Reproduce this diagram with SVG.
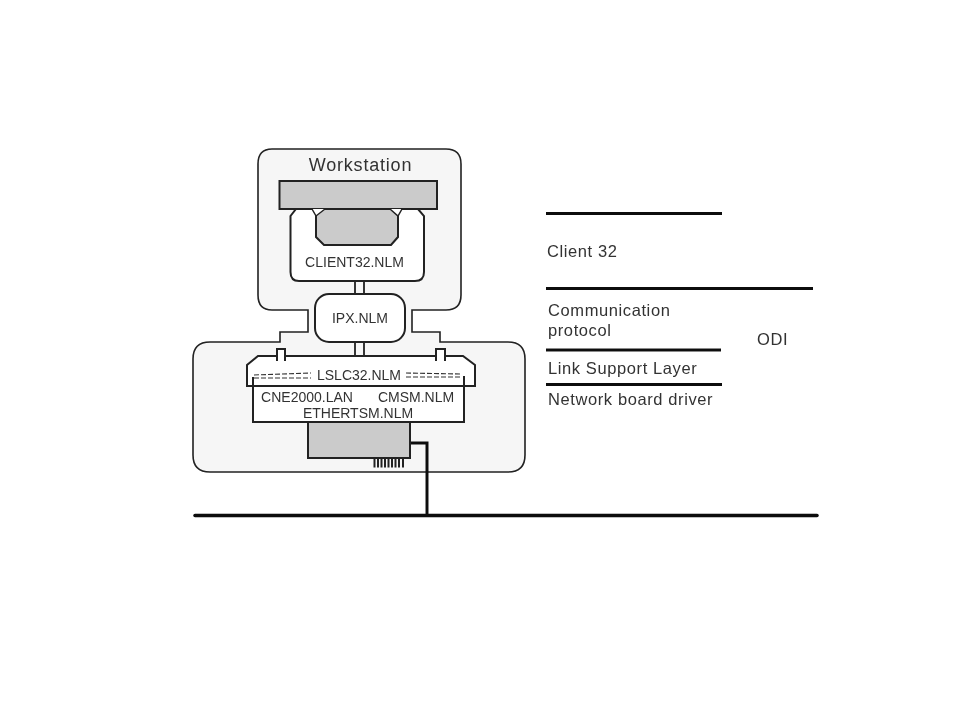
<svg xmlns="http://www.w3.org/2000/svg" width="960" height="720" viewBox="0 0 960 720">
<defs><filter id="b" filterUnits="userSpaceOnUse" x="0" y="0" width="960" height="720"><feGaussianBlur stdDeviation="0.35"/></filter></defs>
<style>
text{font-family:"Liberation Sans",Arial,sans-serif;fill:#333}
.s{font-size:14px;text-anchor:middle}
.l{font-size:16.500px;letter-spacing:.6px}
.o{stroke:#222;stroke-width:2;fill:#fff}
.g{stroke:#222;stroke-width:2;fill:#cbcbcb}
.r{stroke:#111;stroke-width:3;fill:none}
</style>
<rect width="960" height="720" fill="#fff"/>
<g filter="url(#b)">
<g id="workstation-panel">
<path d="M272 149H446Q461 149 461 164V295Q461 310 446 310H412V332H440V342H508Q525 342 525 359V455Q525 472 508 472H210Q193 472 193 455V359Q193 342 210 342H280V332H308V310H272Q258 310 258 295V164Q258 149 272 149Z" fill="#f6f6f6" stroke="#222" stroke-width="1.600"/>
<text x="360.500" y="171" text-anchor="middle" font-size="18" letter-spacing=".8">Workstation</text>
</g>
<g id="client32">
<path class="o" d="M296 209H418L424 216V272Q424 281 415 281H299Q290.500 281 290.500 272V216Z"/>
<rect class="g" x="279.500" y="181" width="157.500" height="28"/>
<path class="g" d="M316 209V237L324 245H391L398 237V209Z"/>
<path d="M312 209L316 216L325 209M390 209L398 216L402 209" fill="#fff" stroke="#222" stroke-width="1.500"/>
<text class="s" x="354.500" y="267">CLIENT32.NLM</text>
</g>
<g id="connectors">
<path d="M355 281V294M364 281V294M355 342V356M364 342V356" stroke="#222" stroke-width="1.800" fill="none"/>
<path class="r" d="M410 443H427V515"/>
<path d="M195 515.500H817" stroke="#111" stroke-width="3.500" stroke-linecap="round"/>
</g>
<g id="ipx">
<rect class="o" x="315" y="294" width="90" height="48" rx="14"/>
<text class="s" x="360" y="323">IPX.NLM</text>
</g>
<g id="lslc32">
<path class="o" d="M247 386V365L258 356H463L475 365V386Z"/>
<path d="M277 361V349H285V361M436 361V349H445V361" stroke="#222" stroke-width="2" fill="#fff"/>
<text class="s" x="359" y="380">LSLC32.NLM</text>
<path d="M254 375L311 373M254 378H311M406 373L461 374M406 377H461" stroke="#333" stroke-width="1.100" stroke-dasharray="5 2" fill="none"/>
</g>
<g id="driver">
<rect class="o" x="253" y="386" width="211" height="36"/>
<path d="M253 386V377M464 386V376" stroke="#222" stroke-width="2"/>
<text class="s" x="307" y="402">CNE2000.LAN</text>
<text class="s" x="416" y="402">CMSM.NLM</text>
<text class="s" x="358" y="418">ETHERTSM.NLM</text>
</g>
<g id="card">
<rect class="g" x="308" y="422" width="102" height="36"/>
<path d="M374.500 458V467.500M378 458V467.500M381.500 458V467.500M385 458V467.500M388.500 458V467.500M392 458V467.500M395.500 458V467.500M399 458V467.500M403 458V467.500" stroke="#222" stroke-width="2"/>
</g>
<g id="layers">
<path class="r" d="M546 213.500H722M546 288.500H813M546 350H721M546 384.500H722"/>
<text class="l" x="547" y="257">Client 32</text>
<text class="l" x="548" y="316">Communication</text>
<text class="l" x="548" y="336">protocol</text>
<text class="l" x="548" y="374">Link Support Layer</text>
<text class="l" x="548" y="405">Network board driver</text>
<text class="l" x="757" y="345">ODI</text>
</g>
</g>
</svg>
